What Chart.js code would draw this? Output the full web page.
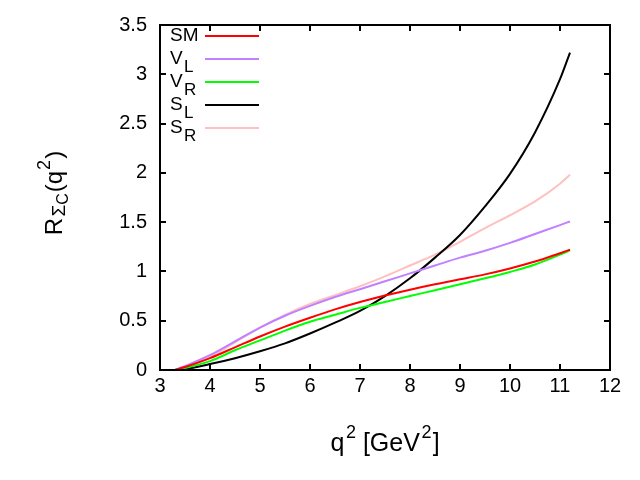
<!DOCTYPE html>
<html>
<head>
<meta charset="utf-8">
<script src="https://cdn.jsdelivr.net/npm/chart.js@4"></script>
<style>
  html, body { margin: 0; padding: 0; background: #fff; }
  #wrap { width: 640px; height: 480px; }
</style>
</head>
<body>
<div id="wrap"><canvas id="chart" width="640" height="480"></canvas></div>
<script>
// q^2 grid (GeV^2)
const q2 = [3.3, 3.5, 4, 4.5, 5, 5.5, 6, 6.5, 7, 7.5, 8, 8.5, 9, 9.5, 10, 10.5, 11, 11.2];

// R_{Sigma_c}(q^2) for each scenario
const smVals = [0, 0.03, 0.12, 0.23, 0.34, 0.44, 0.53, 0.615, 0.69, 0.755, 0.815, 0.87, 0.92, 0.97, 1.03, 1.10, 1.185, 1.22];
const vlVals = [0, 0.04, 0.15, 0.29, 0.43, 0.55, 0.65, 0.74, 0.82, 0.90, 0.98, 1.06, 1.14, 1.21, 1.29, 1.38, 1.47, 1.507];
const vrVals = [0, 0.02, 0.09, 0.20, 0.30, 0.40, 0.49, 0.56, 0.63, 0.69, 0.75, 0.81, 0.87, 0.93, 0.995, 1.07, 1.17, 1.215];
const slVals = [0, 0.01, 0.06, 0.12, 0.19, 0.27, 0.37, 0.48, 0.60, 0.75, 0.93, 1.14, 1.37, 1.66, 1.99, 2.41, 2.95, 3.22];
const srVals = [0, 0.03, 0.13, 0.28, 0.43, 0.56, 0.67, 0.76, 0.85, 0.95, 1.06, 1.17, 1.30, 1.44, 1.57, 1.71, 1.89, 1.98];

const seriesNames = [['S', 'M'], ['V', 'L'], ['V', 'R'], ['S', 'L'], ['S', 'R']];
const seriesColors = ['#ff0000', '#c080ff', '#00ff00', '#000000', '#ffc0c0'];
const seriesVals = [smVals, vlVals, vrVals, slVals, srVals];

const xTicks = [3, 4, 5, 6, 7, 8, 9, 10, 11, 12];
const yTicks = [0, 0.5, 1, 1.5, 2, 2.5, 3, 3.5];

const FONT = '"Liberation Sans", Arial, Helvetica, sans-serif';

// draws a run of pieces [{t, size, dy}] starting at x (left aligned)
function drawRich(ctx, parts, x, y) {
  let cx = x;
  parts.forEach(p => {
    ctx.font = `${p.size}px ${FONT}`;
    ctx.fillText(p.t, cx, y + (p.dy || 0));
    cx += ctx.measureText(p.t).width;
  });
  return cx;
}
function richWidth(ctx, parts) {
  return parts.reduce((w, p) => { ctx.font = `${p.size}px ${FONT}`; return w + ctx.measureText(p.t).width; }, 0);
}

const gnuplotFrame = {
  id: 'gnuplotFrame',
  afterDatasetsDraw(chart) {
    const { ctx, chartArea: a, scales } = chart;
    ctx.save();
    ctx.strokeStyle = '#000';
    ctx.lineWidth = 2;
    ctx.strokeRect(a.left, a.top, a.right - a.left, a.bottom - a.top);
    const tl = 6;
    ctx.beginPath();
    xTicks.forEach(v => {
      const px = Math.round(scales.x.getPixelForValue(v));
      ctx.moveTo(px, a.bottom); ctx.lineTo(px, a.bottom - tl);
      ctx.moveTo(px, a.top); ctx.lineTo(px, a.top + tl);
    });
    yTicks.forEach(v => {
      const py = Math.round(scales.y.getPixelForValue(v));
      ctx.moveTo(a.left, py); ctx.lineTo(a.left + tl, py);
      ctx.moveTo(a.right, py); ctx.lineTo(a.right - tl, py);
    });
    ctx.stroke();

    // legend
    ctx.fillStyle = '#000';
    ctx.textBaseline = 'middle';
    ctx.textAlign = 'left';
    seriesNames.forEach((nm, i) => {
      const y = 36 + i * 23;
      if (nm[0] === 'S' && nm[1] === 'M') {
        drawRich(ctx, [{ t: 'SM', size: 19 }], 170, y);
      } else {
        drawRich(ctx, [{ t: nm[0], size: 19 }, { t: ' ', size: 5 }, { t: nm[1], size: 17, dy: 8 }], 170, y);
      }
      ctx.strokeStyle = seriesColors[i];
      ctx.lineWidth = 2;
      ctx.beginPath();
      ctx.moveTo(205, y); ctx.lineTo(259, y);
      ctx.stroke();
    });

    // x title
    ctx.textBaseline = 'alphabetic';
    const xt = [{ t: 'q', size: 25 }, { t: ' ', size: 6 }, { t: '2', size: 18, dy: -13 }, { t: ' [GeV', size: 25 }, { t: ' ', size: 6 }, { t: '2', size: 18, dy: -13 }, { t: ' ', size: 4 }, { t: ']', size: 25 }];
    const xw = richWidth(ctx, xt);
    drawRich(ctx, xt, 385 - xw / 2, 451);

    // y title (rotated)
    ctx.save();
    ctx.translate(62, 193);
    ctx.rotate(-Math.PI / 2);
    const yt = [{ t: 'R', size: 24 }, { t: ' ', size: 5 }, { t: 'Σ', size: 19, dy: 3 }, { t: 'C', size: 16, dy: 6 }, { t: ' ', size: 3 }, { t: '(q', size: 24 }, { t: ' ', size: 4 }, { t: '2', size: 18, dy: -12 }, { t: ' ', size: 4 }, { t: ')', size: 24 }];
    const yw = richWidth(ctx, yt);
    drawRich(ctx, yt, -yw / 2, 0);
    ctx.restore();
    ctx.restore();
  }
};

const datasets = seriesVals.map((vals, i) => ({
  label: seriesNames[i].join(''),
  data: q2.map((x, j) => ({ x, y: vals[j] })),
  borderColor: seriesColors[i],
  backgroundColor: seriesColors[i],
  borderWidth: 2,
  pointRadius: 0,
  showLine: true,
  cubicInterpolationMode: 'monotone',
  fill: false,
}));

new Chart(document.getElementById('chart').getContext('2d'), {
  type: 'scatter',
  data: { datasets },
  options: {
    responsive: false,
    animation: false,
    layout: { padding: { top: 20, right: 30, left: 0, bottom: 0 } },
    plugins: { legend: { display: false }, tooltip: { enabled: false } },
    scales: {
      x: {
        type: 'linear', min: 3, max: 12,
        afterBuildTicks: s => { s.ticks = xTicks.map(v => ({ value: v })); },
        afterFit: s => { s.height = 110; },
        grid: { display: false, drawTicks: false },
        border: { display: false },
        ticks: { color: '#000', font: { family: FONT, size: 20 }, padding: 4, maxRotation: 0, callback: v => String(v) },
      },
      y: {
        type: 'linear', min: 0, max: 3.5,
        afterBuildTicks: s => { s.ticks = yTicks.map(v => ({ value: v })); },
        afterFit: s => { s.width = 160; },
        grid: { display: false, drawTicks: false },
        border: { display: false },
        ticks: { color: '#000', font: { family: FONT, size: 20 }, padding: 13, callback: v => String(v) },
      },
    },
  },
  plugins: [gnuplotFrame],
});
</script>
</body>
</html>
